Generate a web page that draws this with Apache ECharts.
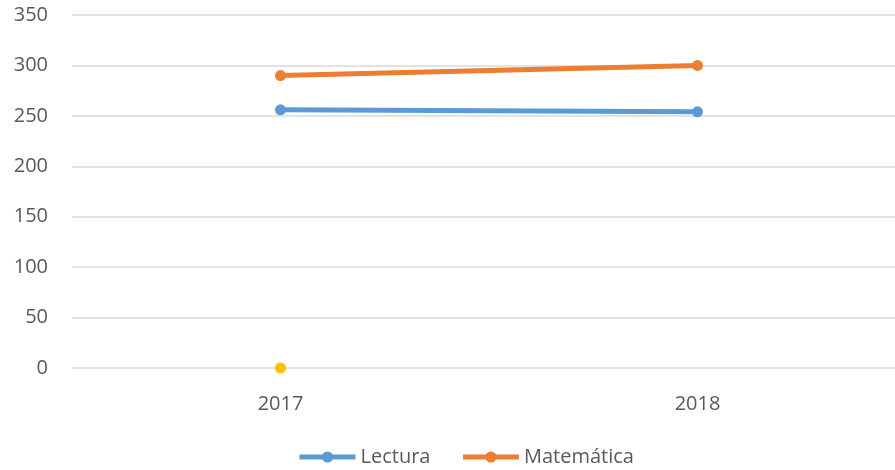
<!DOCTYPE html>
<html>
<head>
<meta charset="utf-8">
<script src="https://cdn.jsdelivr.net/npm/echarts@6/dist/echarts.min.js"></script>
<style>html,body{margin:0;padding:0;background:#fff;}#c{width:895px;height:470px;}</style>
</head>
<body>
<div id="c"></div>
<script>
var categories = ['2017', '2018'];
var lectura = [256, 254];
var matematica = [290, 300];
var serie3 = [0, null];
var yTicks = [0, 50, 100, 150, 200, 250, 300, 350];

var chart = echarts.init(document.getElementById('c'));
var font = '"Open Sans", sans-serif';
chart.setOption({
  animation: false,
  grid: { left: 72, width: 834, top: 15, bottom: 102, containLabel: false, outerBoundsMode: 'none' },
  legend: {
    data: ['Lectura', 'Matemática'],
    top: 442,
    left: 292,
    itemWidth: 56,
    itemHeight: 14,
    itemGap: 30,
    lineStyle: { width: 5 },
    textStyle: { color: '#595959', fontSize: 20, fontFamily: font }
  },
  xAxis: {
    type: 'category',
    data: categories,
    boundaryGap: true,
    axisLine: { show: false },
    axisTick: { show: false },
    axisLabel: { color: '#595959', fontSize: 20, fontFamily: font, margin: 26 }
  },
  yAxis: {
    type: 'value',
    min: 0, max: 350, interval: 50,
    axisLine: { show: false },
    axisTick: { show: false },
    splitLine: { lineStyle: { color: '#d9d9d9', width: 1.5 } },
    axisLabel: { color: '#595959', fontSize: 20, fontFamily: font, margin: 24,
      formatter: function (v) { return yTicks.indexOf(v) >= 0 ? String(v) : ''; } }
  },
  series: [
    { name: 'Lectura', type: 'line', data: lectura, symbol: 'circle', symbolSize: 11,
      lineStyle: { width: 5, color: '#5B9BD5' }, itemStyle: { color: '#5B9BD5' } },
    { name: 'Matemática', type: 'line', data: matematica, symbol: 'circle', symbolSize: 11,
      lineStyle: { width: 5, color: '#ED7D31' }, itemStyle: { color: '#ED7D31' } },
    { name: 'Serie3', type: 'line', data: serie3, symbol: 'circle', symbolSize: 11,
      lineStyle: { width: 5, color: '#FFC000' }, itemStyle: { color: '#FFC000' } }
  ]
});
</script>
</body>
</html>
